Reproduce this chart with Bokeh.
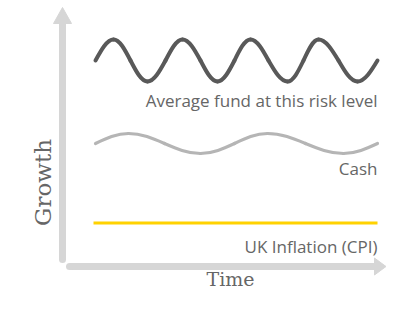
import math
from bokeh.plotting import figure
from bokeh.models import Range1d
from bokeh.core.properties import value
from bokeh.embed import file_html
from bokeh.resources import INLINE

# ---- data (x = time, y = growth level) ----
fund_x = [95, 113, 130, 147, 165, 182, 200, 217, 234, 250, 268, 287, 303, 318, 338, 357, 377]
fund_y = [233, 254, 233, 212, 233, 254, 233, 212, 233, 254, 233, 212, 233, 254, 233, 212, 233]

cash_x = [95, 128, 164, 200, 234, 267, 305, 343, 377]
cash_y = [150, 160, 150, 140, 150, 160, 150, 140, 150]

cpi_x = [93, 377]
cpi_y = [70.5, 70.5]

series_labels = ["Average fund at this risk level", "Cash", "UK Inflation (CPI)"]
label_x = [377, 377, 377]
label_y = [193, 125, 47]

x_title = "Time"
y_title = "Growth"

# ---- figure ----
p = figure(width=386, height=293, x_range=Range1d(0, 386), y_range=Range1d(0, 293),
           output_backend="svg", toolbar_location=None, min_border=0)
p.axis.visible = False
p.grid.visible = False
p.outline_line_color = None
p.background_fill_color = "white"
p.border_fill_color = "white"

ARROW = "#d6d6d6"
# y arrow
p.segment(x0=[62], y0=[34], x1=[62], y1=[271], line_width=7, line_color=ARROW, line_cap="round")
p.patch(x=[53, 71, 62], y=[270, 270, 286], fill_color=ARROW, line_color=ARROW)
# x arrow
p.segment(x0=[69], y0=[27], x1=[376], y1=[27], line_width=7, line_color=ARROW, line_cap="butt")
p.circle(x=[69], y=[27], radius=3.5, fill_color=ARROW, line_color=None)
p.patch(x=[374, 374, 385.5], y=[18.5, 35.5, 27], fill_color=ARROW, line_color=ARROW)


def wave_segments(xs, ys):
    """Quarter-wave bezier segments between consecutive mid/extremum points."""
    sx0, sy0, sx1, sy1, c0x, c0y, c1x, c1y = ([] for _ in range(8))
    for i in range(len(xs) - 1):
        x0, y0, x1, y1 = xs[i], ys[i], xs[i + 1], ys[i + 1]
        dx, dy = x1 - x0, y1 - y0
        if i % 2 == 0:  # mid -> extremum
            a = (x0 + 0.326 * dx, y0 + 0.512 * dy)
            b = (x0 + 0.640 * dx, y1)
        else:  # extremum -> mid
            a = (x0 + 0.360 * dx, y0)
            b = (x1 - 0.326 * dx, y1 - 0.512 * dy)
        sx0.append(x0); sy0.append(y0); sx1.append(x1); sy1.append(y1)
        c0x.append(a[0]); c0y.append(a[1]); c1x.append(b[0]); c1y.append(b[1])
    return dict(x0=sx0, y0=sy0, x1=sx1, y1=sy1, cx0=c0x, cy0=c0y, cx1=c1x, cy1=c1y)


fs = wave_segments(fund_x, fund_y)
p.bezier(**fs, line_width=4, line_color="#595959", line_cap="round")
cs = wave_segments(cash_x, cash_y)
p.bezier(**cs, line_width=3.2, line_color="#b5b5b5", line_cap="round")
p.line(cpi_x, cpi_y, line_width=3, line_color="#ffd200")

p.text(x=label_x, y=label_y, text=series_labels, text_align="right", text_baseline="alphabetic",
       text_font=value("Open Sans"), text_font_size="17px", text_color="#666666")

p.text(x=[230], y=[15], text=[x_title], text_align="center", text_baseline="alphabetic",
       text_font=value("DejaVu Serif"), text_font_size="19px", text_color="#666666")
p.text(x=[42], y=[111], text=[y_title], angle=math.pi / 2, text_align="center",
       text_baseline="alphabetic", text_font=value("DejaVu Serif"), text_font_size="23px",
       text_color="#666666")

open("out.html", "w").write(file_html(p, INLINE))
